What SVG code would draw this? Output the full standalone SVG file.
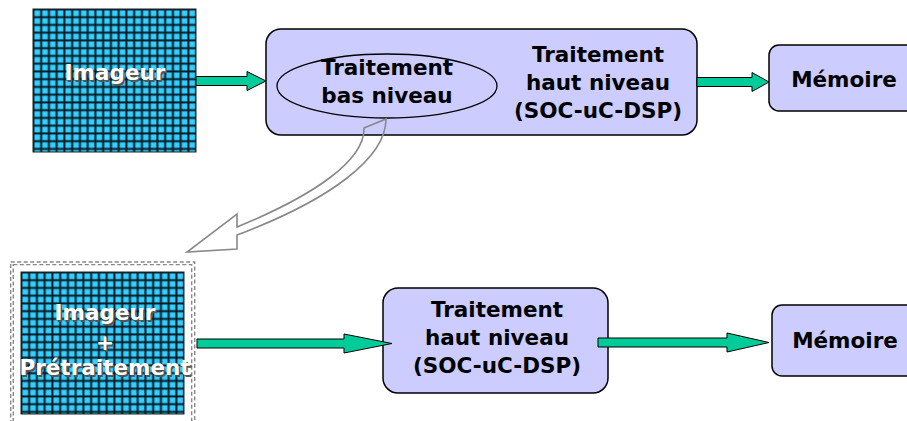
<svg xmlns="http://www.w3.org/2000/svg" width="907" height="421" viewBox="0 0 907 421">
<defs>
<pattern id="gridA" patternUnits="userSpaceOnUse" x="33" y="9" width="7.75" height="7.75">
<rect width="7.75" height="7.75" fill="#0a1a22"/>
<rect x="1.4" y="1.4" width="5.8" height="5.8" fill="#26c6f6"/>
<rect x="2.2" y="2.2" width="4.2" height="4.2" fill="#38cfff"/>
</pattern>
<pattern id="gridB" patternUnits="userSpaceOnUse" x="21" y="272" width="7.75" height="7.75">
<rect width="7.75" height="7.75" fill="#0a1a22"/>
<rect x="1.4" y="1.4" width="5.8" height="5.8" fill="#26c6f6"/>
<rect x="2.2" y="2.2" width="4.2" height="4.2" fill="#38cfff"/>
</pattern>
</defs>
<style>
.box{fill:#ccccff;stroke:#000;stroke-width:1.5}
.t{font-family:"DejaVu Sans","Liberation Sans",sans-serif;font-weight:bold;font-size:21.5px;text-anchor:middle;fill:#000}
.w{font-family:"DejaVu Sans","Liberation Sans",sans-serif;font-weight:bold;font-size:21.5px;text-anchor:middle;fill:#fff}
.sh{font-family:"DejaVu Sans","Liberation Sans",sans-serif;font-weight:bold;font-size:21.5px;text-anchor:middle;fill:#555}
.arr{fill:#00cc99;stroke:#000;stroke-width:1}
.dash{fill:none;stroke:#888;stroke-width:1.4;stroke-dasharray:4 2.5}
</style>
<g id="imageur">
<rect x="33" y="9" width="163" height="143" fill="url(#gridA)" stroke="#222" stroke-width="1"/>
<text class="sh" x="116.5" y="81.5">Imageur</text>
<text class="w" x="115" y="80">Imageur</text>
</g>
<g id="traitement">
<rect class="box" x="266" y="29" width="431" height="106" rx="15"/>
<ellipse cx="387" cy="86" rx="110" ry="32" fill="none" stroke="#000" stroke-width="1.3"/>
<text class="t" x="387" y="75">Traitement</text>
<text class="t" x="387" y="103">bas niveau</text>
<text class="t" x="598" y="62">Traitement</text>
<text class="t" x="598" y="90">haut niveau</text>
<text class="t" x="598" y="118">(SOC-uC-DSP)</text>
</g>
<g id="memoire1">
<rect class="box" x="769" y="45" width="160" height="66" rx="10"/>
<text class="t" x="844" y="87">Mémoire</text>
</g>
<g id="imageur2">
<rect class="dash" x="10.7" y="262" width="184" height="170"/>
<rect class="dash" x="13.3" y="264.6" width="178.4" height="170"/>
<rect x="21" y="272" width="163" height="142" fill="url(#gridB)" stroke="#222" stroke-width="1"/>
<text class="sh" x="106.5" y="321.5">Imageur</text>
<text class="w" x="105" y="320">Imageur</text>
<text class="sh" x="106.5" y="351.5">+</text>
<text class="w" x="105" y="350">+</text>
<text class="sh" x="106.5" y="376.5">Prétraitement</text>
<text class="w" x="105" y="375">Prétraitement</text>
</g>
<g id="traitement2">
<rect class="box" x="383" y="288" width="225" height="105" rx="15"/>
<text class="t" x="497" y="317">Traitement</text>
<text class="t" x="497" y="345">haut niveau</text>
<text class="t" x="497" y="373">(SOC-uC-DSP)</text>
</g>
<g id="memoire2">
<rect class="box" x="772" y="305" width="160" height="71" rx="10"/>
<text class="t" x="845" y="348">Mémoire</text>
</g>
<g id="connectors">
<polygon class="arr" points="196,76.5 247,76.5 247,71.5 266,81 247,90.5 247,85.5 196,85.5"/>
<polygon class="arr" points="697,77.5 752,77.5 752,72.5 769,82 752,91.5 752,86.5 697,86.5"/>
<polygon class="arr" points="197,339 344,339 344,334 392,343.5 344,353 344,348 197,348"/>
<polygon class="arr" points="598,338 727,338 727,333 769,342.5 727,352 727,347 598,347"/>
<path d="M364,128 L386,119 C386,158 330,200 237,235 L237,249 L187,252 L237,214 L237,227 C315,195 365,160 364,128 Z" fill="none" stroke="#888" stroke-width="1.6" stroke-linejoin="miter"/>
</g>
</svg>
